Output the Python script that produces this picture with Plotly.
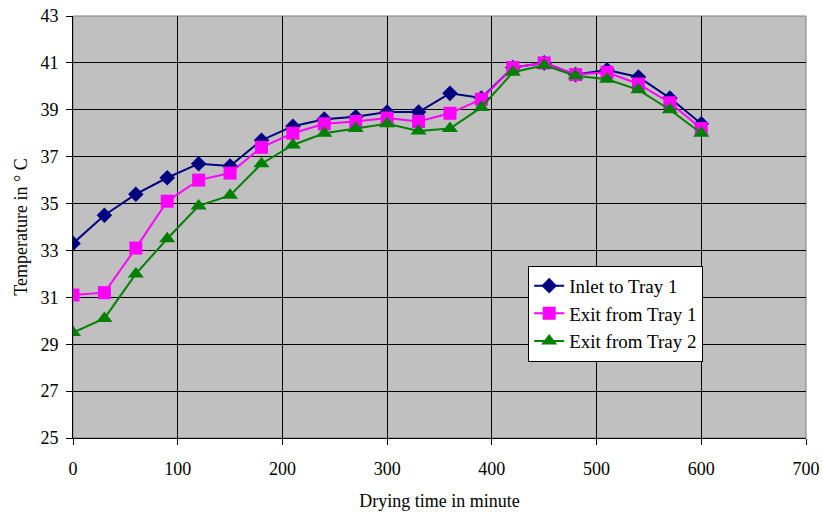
import plotly.graph_objects as go

time_min = [0, 30, 60, 90, 120, 150, 180, 210, 240, 270, 300, 330, 360, 390, 420, 450, 480, 510, 540, 570, 600]
inlet_tray1 = [33.3, 34.5, 35.4, 36.1, 36.7, 36.6, 37.7, 38.3, 38.6, 38.7, 38.9, 38.9, 39.7, 39.5, 40.8, 41.0, 40.5, 40.7, 40.4, 39.5, 38.4]
exit_tray1 = [31.1, 31.2, 33.1, 35.1, 36.0, 36.3, 37.4, 38.0, 38.4, 38.5, 38.65, 38.5, 38.85, 39.45, 40.8, 41.0, 40.5, 40.6, 40.1, 39.3, 38.2]
exit_tray2 = [29.5, 30.1, 32.0, 33.5, 34.9, 35.35, 36.7, 37.5, 38.0, 38.2, 38.4, 38.1, 38.2, 39.1, 40.6, 40.9, 40.45, 40.3, 39.85, 39.0, 38.0]

series_names = ["Inlet to Tray 1", "Exit from Tray 1", "Exit from Tray 2"]

fig = go.Figure()
fig.add_trace(go.Scatter(x=time_min, y=inlet_tray1, name=series_names[0], mode="lines+markers",
                         line=dict(color="#000080", width=2),
                         marker=dict(symbol="diamond", size=12, color="#000080")))
fig.add_trace(go.Scatter(x=time_min, y=exit_tray1, name=series_names[1], mode="lines+markers",
                         line=dict(color="#FF00FF", width=2),
                         marker=dict(symbol="square", size=13, color="#FF00FF")))
fig.add_trace(go.Scatter(x=time_min, y=exit_tray2, name=series_names[2], mode="lines+markers",
                         line=dict(color="#008000", width=2),
                         marker=dict(symbol="triangle-up", size=14, color="#008000")))

font_family = "'Liberation Serif', 'DejaVu Serif', serif"
fig.update_layout(
    width=822, height=520,
    margin=dict(l=73, r=16, t=16, b=82),
    paper_bgcolor="white",
    plot_bgcolor="#C0C0C0",
    font=dict(family=font_family, size=18, color="black"),
    legend=dict(x=0.621, y=0.408, xanchor="left", yanchor="top",
                bgcolor="white", bordercolor="black", borderwidth=1,
                font=dict(family=font_family, size=19), tracegroupgap=0),
    xaxis=dict(range=[0, 700], dtick=100, tick0=0, showgrid=True, gridcolor="black", gridwidth=1,
               showline=True, linecolor="black", linewidth=1, ticks="outside", ticklen=6,
               tickcolor="black", zeroline=False, mirror=False, automargin=False,
               ticklabelstandoff=8,
               title=dict(text="Drying time in minute", standoff=16, font=dict(size=18))),
    yaxis=dict(range=[25, 43], dtick=2, tick0=25, showgrid=True, gridcolor="black", gridwidth=1,
               showline=True, linecolor="black", linewidth=1, ticks="outside", ticklen=6,
               tickcolor="black", zeroline=False, automargin=False,
               ticklabelstandoff=4,
               title=dict(text="Temperature in ° C", standoff=8, font=dict(size=18))),
)
# gray frame on top and right of plot area
fig.add_shape(type="rect", xref="paper", yref="paper", x0=0, y0=0, x1=1, y1=1,
              line=dict(color="#808080", width=1), layer="below")

fig.write_html("out.html")
